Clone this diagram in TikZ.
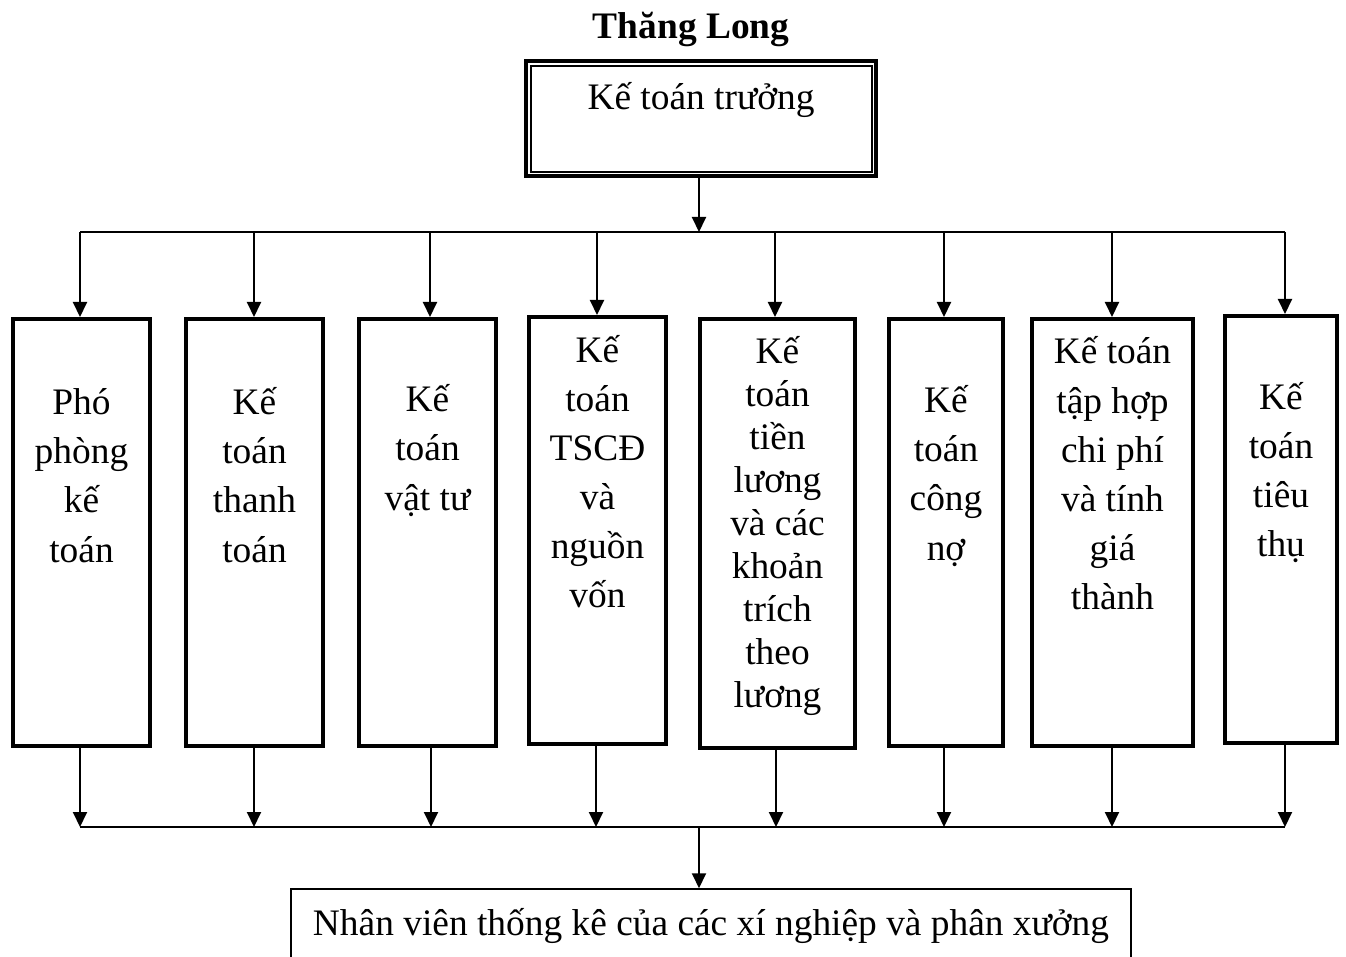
\documentclass[tikz,border=0pt]{standalone}
\usepackage{fontspec}
\setmainfont{Liberation Serif}
\usetikzlibrary{arrows.meta,fit}

\begin{document}
\begin{tikzpicture}[x=0.5pt,y=-0.5pt,
  box/.style={draw, line width=2pt, inner sep=0pt},
  % multi-line labels: the base anchor sits on the last line's baseline
  lbl/.style={align=center, anchor=base, inner sep=0pt,
              font=\fontsize{18.7}{24.6}\selectfont},
  arr/.style={line width=1pt, -{Triangle[width=7pt,length=7.5pt]}},
  bus/.style={line width=1pt}]
\useasboundingbox (0,0) rectangle (1346,957);
\clip (0,0) rectangle (1346,957);

% title
\node[anchor=base, inner sep=0pt, font=\fontsize{18.7}{22}\selectfont\bfseries]
  (title) at (691,39) {Thăng Long};

% chief accountant (double frame)
\node[box, fit={(526,61) (876,176)}] (head) {};
\node[draw, line width=1pt, inner sep=0pt, fit={(531,66) (872,172)}] (headin) {};
\node[lbl] (headtxt) at (701,110) {Kế toán trưởng};

% department boxes
\node[box, fit={(13,319) (150,746)}]   (b1) {};
\node[box, fit={(186,319) (323,746)}]  (b2) {};
\node[box, fit={(359,319) (496,746)}]  (b3) {};
\node[box, fit={(529,317) (666,744)}]  (b4) {};
\node[box, fit={(700,319) (855,748)}]  (b5) {};
\node[box, fit={(889,319) (1003,746)}] (b6) {};
\node[box, fit={(1032,319) (1193,746)}] (b7) {};
\node[box, fit={(1225,316) (1337,743)}] (b8) {};

\node[lbl] (l1) at (81.5,562)  {Phó\\phòng\\kế\\toán};
\node[lbl] (l2) at (254.5,562) {Kế\\toán\\thanh\\toán};
\node[lbl] (l3) at (427.5,510) {Kế\\toán\\vật tư};
\node[lbl] (l4) at (597.5,608) {Kế\\toán\\TSCĐ\\và\\nguồn\\vốn};
\node[lbl, font=\fontsize{18.7}{21.5}\selectfont]
           (l5) at (777.5,707) {Kế\\toán\\tiền\\lương\\và các\\khoản\\trích\\theo\\lương};
\node[lbl] (l6) at (946,560)   {Kế\\toán\\công\\nợ};
\node[lbl] (l7) at (1112.5,610) {Kế toán\\tập hợp\\chi phí\\và tính\\giá\\thành};
\node[lbl] (l8) at (1281,557)  {Kế\\toán\\tiêu\\thụ};

% statistics staff box (runs off the bottom edge)
\node[draw, line width=0.75pt, inner sep=0pt, fit={(291,889) (1131,1000)}] (staff) {};
\node[lbl] (stafftxt) at (711,935) {Nhân viên thống kê của các xí nghiệp và phân xưởng};

% upper distribution bus
\coordinate (topfork) at (699,232);
\coordinate (tl) at (80,232);
\coordinate (tr) at (1285,232);
\draw[arr] (head.south -| topfork) -- (topfork);
\draw[bus] (tl) -- (tr);
\foreach \x/\b in {80/b1,254/b2,430/b3,597/b4,775/b5,944/b6,1112/b7,1285/b8}{
  \coordinate (t\b) at (\x,232);
  \draw[arr] (t\b) -- (t\b |- \b.north);
}

% lower collecting bus
\coordinate (botfork) at (699,827);
\coordinate (bl) at (80,827);
\coordinate (br) at (1285,827);
\draw[bus] (bl) -- (br);
\foreach \x/\b in {80/b1,254/b2,431/b3,596/b4,776/b5,944/b6,1112/b7,1285/b8}{
  \coordinate (s\b) at (\x,827);
  \draw[arr] (s\b |- \b.south) -- (s\b);
}
\draw[arr] (botfork) -- (botfork |- staff.north);
\end{tikzpicture}
\end{document}
